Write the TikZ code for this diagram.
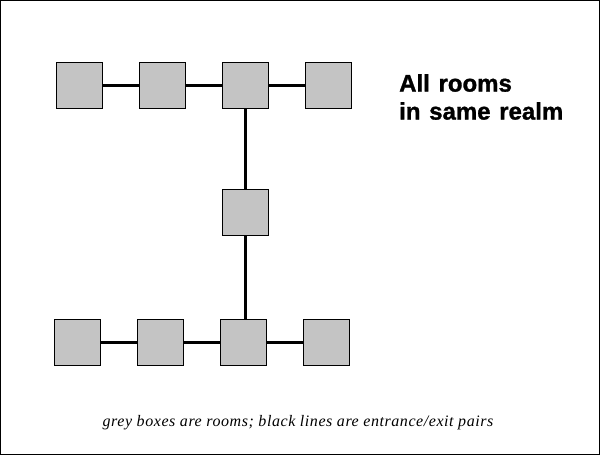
\documentclass[tikz,border=0pt]{standalone}
\usepackage{fontspec}
\setmainfont{Liberation Serif}
\newfontfamily\headfont[FakeBold=1.2,WordSpace=1.3]{Liberation Sans Bold}
\newfontfamily\capfont[LetterSpace=3.5]{Liberation Serif Italic}
\begin{document}
\begin{tikzpicture}[x=1pt,y=-1pt,
  room/.style={draw=black,line width=1pt,fill={rgb,255:red,196;green,196;blue,196},minimum width=46pt,minimum height=46pt,inner sep=0pt},
  link/.style={line width=3pt,black}]
\useasboundingbox (0,0) rectangle (600,455);
\draw[line width=1pt] (0.5,0.5) rectangle (599.5,454.5);
% top row
\node[room] (t1) at (79.5,85) {};
\node[room] (t2) at (162,85) {};
\node[room] (t3) at (245.3,85) {};
\node[room] (t4) at (328.7,85) {};
% middle
\node[room] (m) at (245.5,212.5) {};
% bottom row
\node[room] (b1) at (77.8,342.7) {};
\node[room] (b2) at (160.8,342.7) {};
\node[room] (b3) at (243.8,342.7) {};
\node[room] (b4) at (326.8,342.7) {};
\draw[link] (t1) -- (t2);
\draw[link] (t2) -- (t3);
\draw[link] (t3) -- (t4);
\draw[link] (t3.south -| m.north) -- (m.north);
\draw[link] (m.south) -- (m.south |- b3.north);
\draw[link] (b1) -- (b2);
\draw[link] (b2) -- (b3);
\draw[link] (b3) -- (b4);
\node[anchor=north west,inner sep=0pt,align=left,font={\headfont\fontsize{24}{28}\selectfont}] (title) at (399,74) {All rooms\\in same realm};
\node[inner sep=0pt,font={\capfont\fontsize{16}{18}\selectfont}] (cap) at (298,423) {grey boxes are rooms; black lines are entrance/exit pairs};
\end{tikzpicture}
\end{document}
